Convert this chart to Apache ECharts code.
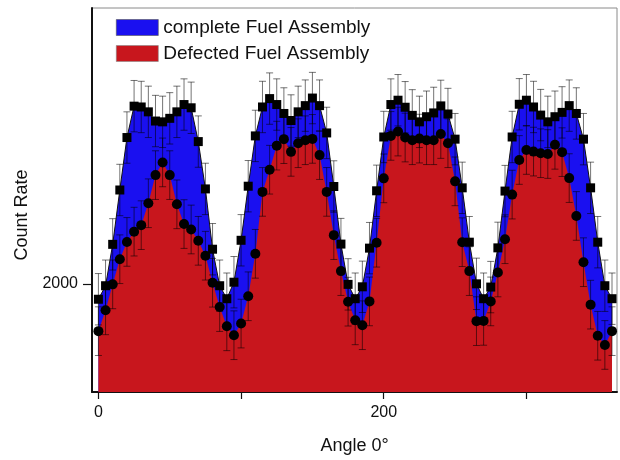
<!DOCTYPE html>
<html>
<head>
<meta charset="utf-8">
<script src="https://cdn.jsdelivr.net/npm/echarts@6/dist/echarts.min.js"></script>
<style>
html,body{margin:0;padding:0;background:#fff;}
#chart{width:620px;height:460px;}
</style>
</head>
<body>
<div id="chart"></div>
<script>
const angles = [0,5,10,15,20,25,30,35,40,45,50,55,60,65,70,75,80,85,90,95,100,105,110,115,120,125,130,135,140,145,150,155,160,165,170,175,180,185,190,195,200,205,210,215,220,225,230,235,240,245,250,255,260,265,270,275,280,285,290,295,300,305,310,315,320,325,330,335,340,345,350,355,360];
const completeRate = [1943,1993,2146,2347,2541,2657,2654,2636,2602,2599,2612,2636,2663,2651,2526,2351,2128,1993,1945,2006,2161,2361,2547,2654,2685,2663,2630,2604,2636,2659,2687,2659,2558,2360,2147,1998,1945,1989,2132,2344,2543,2663,2679,2653,2623,2599,2618,2632,2658,2628,2535,2355,2154,2000,1945,1988,2133,2343,2543,2664,2679,2654,2624,2599,2618,2634,2659,2630,2535,2355,2154,1993,1945];
const defectedRate = [1825,1902,1998,2091,2155,2193,2217,2298,2402,2449,2402,2294,2221,2201,2159,2104,2004,1914,1843,1810,1853,1954,2111,2340,2422,2511,2535,2488,2520,2531,2536,2476,2340,2180,2047,1934,1865,1847,1935,2152,2390,2547,2563,2541,2531,2537,2531,2531,2554,2520,2379,2154,2047,1862,1863,1935,2042,2165,2330,2458,2495,2489,2483,2480,2514,2487,2391,2251,2080,1923,1808,1774,1825];
const completeErr = 95;
const defectedErr = 90;
const xTickValues = [0,100,200,300];
const xLabelValues = [0,200];
const yTickValues = [2000];
const seriesNames = ['complete Fuel Assembly','Defected Fuel Assembly'];

const BLUE = '#1a10f0';
const RED = '#c8161d';
const FONT = 'Liberation Sans, Arial, sans-serif';

const pair = (ys) => angles.map((a, i) => [a, ys[i]]);

function errorBars(err) {
  return function (params, api) {
    const x = api.value(0), y = api.value(1);
    const top = api.coord([x, y + err]);
    const bot = api.coord([x, y - err]);
    const hw = 3.5;
    const st = {stroke: 'rgba(0,0,0,0.55)', lineWidth: 1};
    return {
      type: 'group',
      children: [
        {type: 'line', shape: {x1: top[0], y1: top[1], x2: bot[0], y2: bot[1]}, style: st},
        {type: 'line', shape: {x1: top[0]-hw, y1: top[1], x2: top[0]+hw, y2: top[1]}, style: st},
        {type: 'line', shape: {x1: bot[0]-hw, y1: bot[1], x2: bot[0]+hw, y2: bot[1]}, style: st}
      ]
    };
  };
}

const chart = echarts.init(document.getElementById('chart'), null, {renderer: 'canvas'});
chart.setOption({
  animation: false,
  backgroundColor: '#fff',
  textStyle: {fontFamily: FONT},
  grid: {left: 92, right: 3, top: 8, bottom: 66, show: true, borderColor: '#8a8a8a', borderWidth: 1, backgroundColor: 'transparent'},
  legend: {
    left: 116, top: 18, padding: 0, orient: 'vertical', itemWidth: 42, itemHeight: 16, itemGap: 7,
    textStyle: {fontSize: 19, lineHeight: 16, color: '#111', fontFamily: FONT},
    data: [
      {name: seriesNames[0], icon: 'rect', itemStyle: {color: BLUE, borderColor: '#555', borderWidth: 0.6}},
      {name: seriesNames[1], icon: 'rect', itemStyle: {color: RED, borderColor: '#888', borderWidth: 0.6}}
    ]
  },
  xAxis: {
    type: 'value', min: -4.5, max: 363.5,
    name: 'Angle 0°', nameLocation: 'middle', nameGap: 45,
    nameTextStyle: {fontSize: 18, color: '#111'},
    axisLine: {show: true, onZero: false, lineStyle: {color: '#111', width: 2}},
    axisTick: {show: true, length: 7, customValues: xTickValues, lineStyle: {color: '#111', width: 1.2}},
    axisLabel: {customValues: xLabelValues, fontSize: 16, color: '#111', margin: 13, formatter: (v) => String(v)},
    splitLine: {show: false}
  },
  yAxis: {
    type: 'value', min: 1600, max: 3020,
    name: 'Count Rate', nameLocation: 'middle', nameGap: 58,
    nameTextStyle: {fontSize: 18, color: '#111', padding: [0, 30, 0, 0]},
    axisLine: {show: true, onZero: false, lineStyle: {color: '#111', width: 2}},
    axisTick: {show: true, length: 9, customValues: yTickValues, lineStyle: {color: '#111', width: 1.2}},
    axisLabel: {customValues: yTickValues, fontSize: 16, color: '#111', margin: 14, formatter: (v) => String(v)},
    splitLine: {show: false}
  },
  series: [
    {
      name: seriesNames[0], type: 'line', data: pair(completeRate), z: 1,
      symbol: 'none', lineStyle: {width: 0}, itemStyle: {color: BLUE},
      areaStyle: {color: BLUE, opacity: 1, origin: 'start'}
    },
    {
      name: seriesNames[1], type: 'line', data: pair(defectedRate), z: 2,
      symbol: 'none', lineStyle: {width: 0}, itemStyle: {color: RED},
      areaStyle: {color: RED, opacity: 1, origin: 'start'}
    },
    {
      name: 'completeErr', type: 'custom', data: pair(completeRate), z: 3,
      renderItem: errorBars(completeErr), silent: true
    },
    {
      name: 'defectedErr', type: 'custom', data: pair(defectedRate), z: 3,
      renderItem: errorBars(defectedErr), silent: true
    },
    {
      name: 'completePts', type: 'line', data: pair(completeRate), z: 4,
      symbol: 'rect', symbolSize: 9, showAllSymbol: true,
      lineStyle: {color: '#111', width: 1}, itemStyle: {color: '#000'}
    },
    {
      name: 'defectedPts', type: 'line', data: pair(defectedRate), z: 5,
      symbol: 'circle', symbolSize: 10, showAllSymbol: true,
      lineStyle: {width: 0}, itemStyle: {color: '#000'}
    }
  ]
});
</script>
</body>
</html>
